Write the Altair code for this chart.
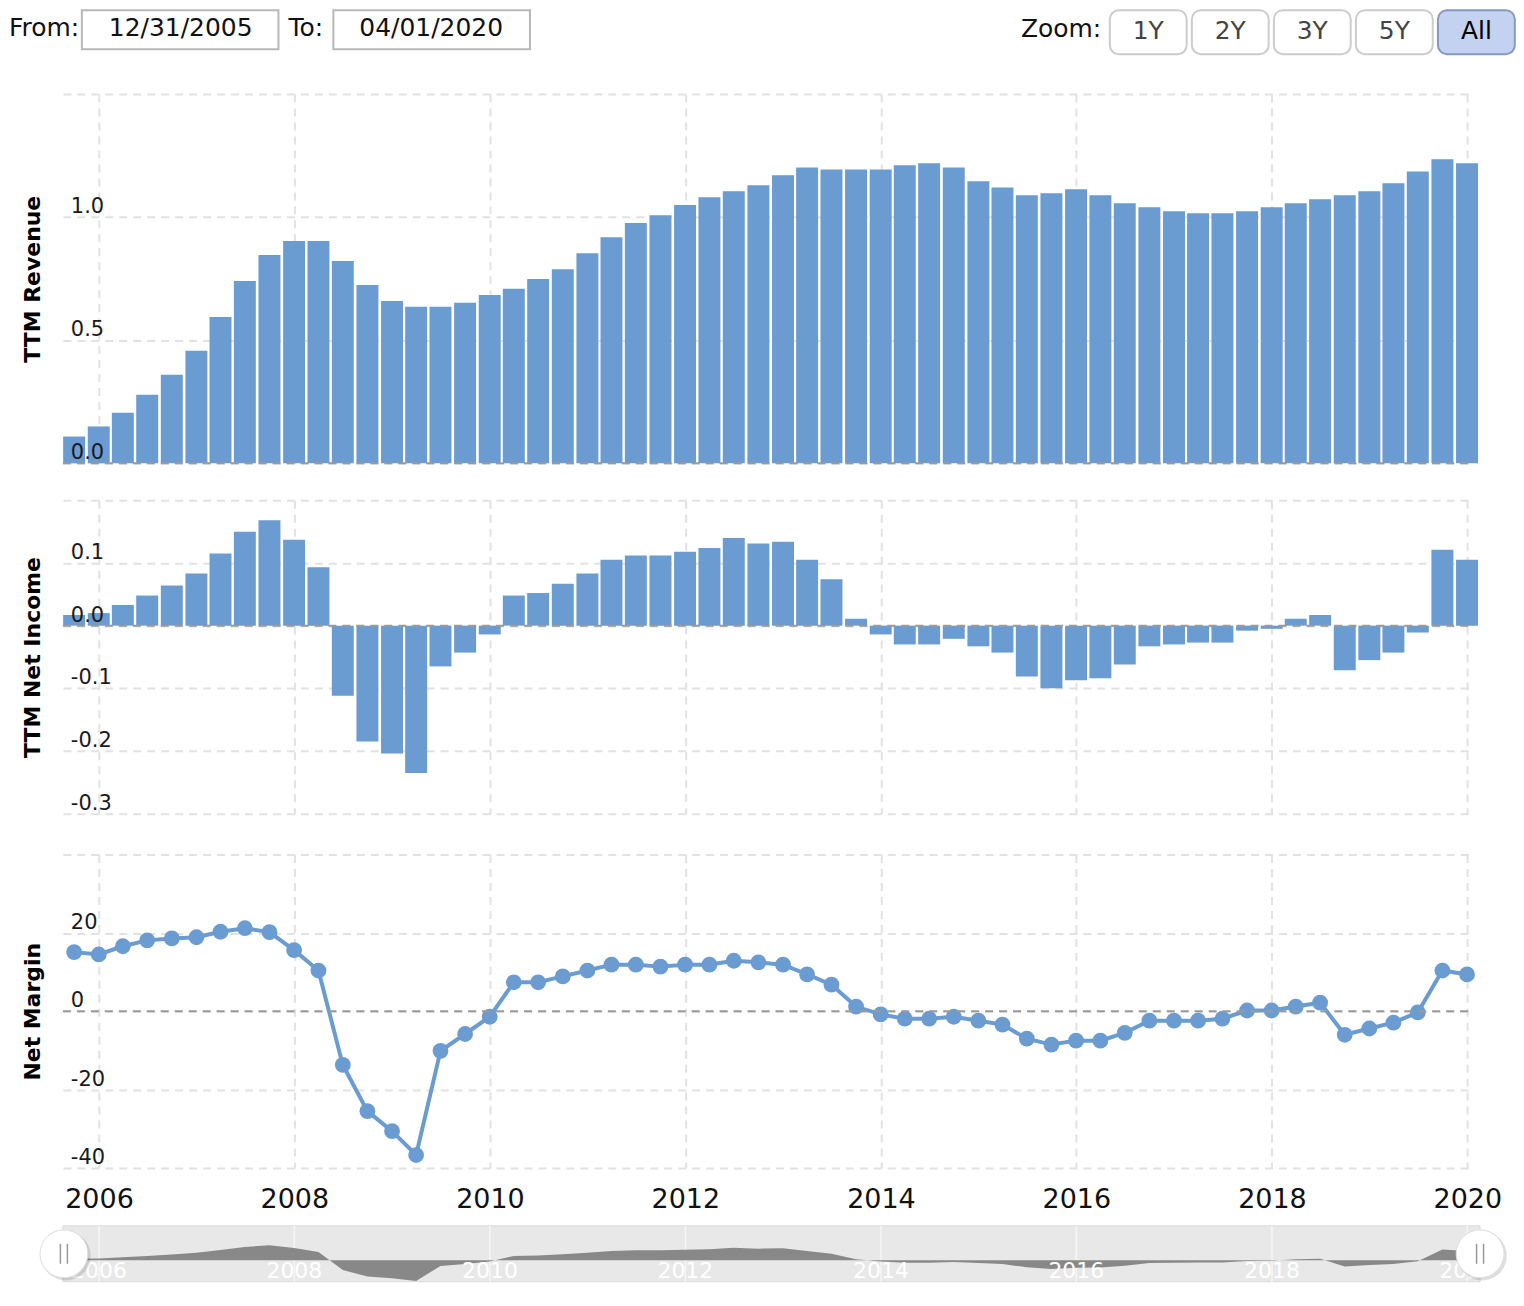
import altair as alt
import pandas as pd

# ---------------- data ----------------
quarter_ends = ["03-31", "06-30", "09-30", "12-31"]
dates = [f"{y}-{q}" for y in range(2005, 2020) for q in quarter_ends
         if f"{y}-{q}" >= "2005-09-30"]

revenue = [0.109, 0.150, 0.206, 0.279, 0.360, 0.457, 0.595, 0.741, 0.846, 0.903,
           0.903, 0.822, 0.725, 0.660, 0.636, 0.636, 0.652, 0.684, 0.709, 0.749,
           0.789, 0.854, 0.919, 0.976, 1.008, 1.049, 1.081, 1.105, 1.130,
           1.170, 1.202, 1.194, 1.194, 1.194, 1.211, 1.219, 1.202, 1.146, 1.121,
           1.089, 1.097, 1.113, 1.089, 1.057, 1.040, 1.024, 1.016, 1.016, 1.024,
           1.040, 1.057, 1.073, 1.089, 1.105, 1.138, 1.186, 1.235, 1.219]

net_income = [0.017, 0.020, 0.033, 0.048, 0.064, 0.083, 0.115, 0.150, 0.168, 0.137,
              0.093, -0.112, -0.185, -0.204, -0.235, -0.065, -0.043, -0.014, 0.048, 0.052,
              0.067, 0.083, 0.105, 0.112, 0.112, 0.118, 0.124, 0.140, 0.131, 0.134,
              0.105, 0.074, 0.011, -0.014, -0.030, -0.030, -0.021, -0.033, -0.043, -0.081,
              -0.100, -0.087, -0.084, -0.062, -0.033, -0.030, -0.027, -0.027, -0.008, -0.005,
              0.011, 0.017, -0.071, -0.055, -0.043, -0.011, 0.121, 0.105]

net_margin = [15.1, 14.5, 16.6, 18.1, 18.6, 18.9, 20.3, 21.2, 20.2, 15.6,
              10.4, -13.7, -25.5, -30.6, -36.7, -10.1, -5.8, -1.4, 7.4, 7.4,
              8.9, 10.4, 11.9, 11.9, 11.4, 11.9, 11.9, 12.9, 12.5, 11.9,
              9.4, 6.8, 1.2, -0.8, -1.9, -1.9, -1.4, -2.4, -3.4, -7.0,
              -8.5, -7.5, -7.5, -5.5, -2.4, -2.4, -2.4, -1.9, 0.2, 0.2,
              1.2, 2.2, -6.0, -4.4, -2.9, -0.3, 10.4, 9.4]

rev_ticks = [0.0, 0.5, 1.0, 1.5]
ni_ticks = [-0.3, -0.2, -0.1, 0.0, 0.1, 0.2]
nm_ticks = [-40, -20, 0, 20, 40]
year_ticks = [2006, 2008, 2010, 2012, 2014, 2016, 2018, 2020]
zoom_buttons = ["1Y", "2Y", "3Y", "5Y", "All"]
selected_button = "All"
date_from = "12/31/2005"
date_to = "04/01/2020"
titles = ["TTM Revenue", "TTM Net Income", "Net Margin"]

# ---------------- style / layout ----------------
BLUE = "#6a9bd1"
GRID = "#e2e2e2"
ZERO = "#9a9a9a"
FONT = "DejaVu Sans"
W, H1, H2, H3 = 1408, 370, 314, 314
ONE = pd.DataFrame({"k": [0]})

x_scale = alt.Scale(type="utc", padding=0,
                    domain=[alt.DateTime(year=2005, month=8, date=19, utc=True),
                            alt.DateTime(year=2020, month=1, date=4, utc=True)])
year_vals = [alt.DateTime(year=y, month=1, date=1, utc=True) for y in year_ticks]
grid = dict(grid=True, gridColor=GRID, gridDash=[8, 6], gridWidth=2)

x_axis_hidden = alt.Axis(values=year_vals, labels=False, ticks=False, tickSize=0,
                         domain=False, title=None, **grid)
x_axis_main = alt.Axis(values=year_vals, labelExpr="utcFormat(datum.value, '%Y')",
                       labelFont=FONT, labelFontSize=27, labelColor="#111",
                       labelPadding=19, labelFlush=False, labelOverlap=False,
                       ticks=False, tickSize=0, domain=False, title=None, **grid)


def y_axis(title, vals, h):
    return alt.Axis(values=vals, labels=False, ticks=False, tickSize=0, domain=False,
                    title=title, titleFont=FONT, titleFontSize=22, titleFontWeight="bold",
                    titleColor="#000", titleAngle=270, titleX=-23, titleY=h / 2,
                    titleAlign="center", titleBaseline="alphabetic", **grid)


def spacer(y0=100, y1=101):
    return alt.Chart(ONE).mark_rule(color="white", strokeWidth=1).encode(
        x=alt.value(-54), y=alt.value(y0), y2=alt.value(y1))


def tick_text(ticks, fmt, scale, axis):
    vals = ticks[:-1]
    df = pd.DataFrame({"val": vals, "label": [format(v, fmt) for v in vals]})
    return alt.Chart(df).mark_text(align="left", baseline="alphabetic", dx=8, dy=-4,
                                   font=FONT, fontSize=21, color="#1a1a1a").encode(
        x=alt.value(0), y=alt.Y("val:Q", scale=scale, axis=axis), text="label:N")


def zero_rule(scale, axis):
    return alt.Chart(pd.DataFrame({"val": [0.0]})).mark_rule(
        color=ZERO, strokeDash=[8, 6], strokeWidth=2).encode(
        y=alt.Y("val:Q", scale=scale, axis=axis))


def ui_text(txt, x, y, align="left", color="#111", size=25):
    return alt.Chart(ONE).mark_text(text=txt, align=align, baseline="middle", font=FONT,
                                    fontSize=size, color=color).encode(
        x=alt.value(x), y=alt.value(y))


def ui_rect(x0, x1, y0, y1, fill, stroke, radius=0):
    return alt.Chart(ONE).mark_rect(fill=fill, stroke=stroke, strokeWidth=2,
                                    cornerRadius=radius).encode(
        x=alt.value(x0), x2=alt.value(x1), y=alt.value(y0), y2=alt.value(y1))


# ---------------- toolbar (above panel 1) ----------------
toolbar = [
    ui_text("From:", -54, -66),
    ui_rect(19, 216, -84, -45, "white", "#b8b8b8"),
    ui_text(date_from, 118, -66, align="center"),
    ui_text("To:", 226, -66),
    ui_rect(271, 468, -84, -45, "white", "#b8b8b8"),
    ui_text(date_to, 369, -66, align="center"),
    ui_text("Zoom:", 960, -65),
]
for i, b in enumerate(zoom_buttons):
    x0 = 1049 + i * 82.2
    sel = b == selected_button
    toolbar.append(ui_rect(x0, x0 + 77, -84, -40, "#c3d2f0" if sel else "white",
                           "#8898bf" if sel else "#cccccc", radius=9))
    toolbar.append(ui_text(b, x0 + 38.5, -63, align="center",
                           color="#000" if sel else "#444"))

# ---------------- panel 1: revenue ----------------
y1s = alt.Scale(domain=[0, 1.5], nice=False, zero=False)
y1a = y_axis(titles[0], rev_ticks, H1)
df_rev = pd.DataFrame({"date": dates, "val": revenue})
bars1 = alt.Chart(df_rev).mark_bar(color=BLUE, width=22).encode(
    x=alt.X("date:T", scale=x_scale, axis=x_axis_hidden),
    y=alt.Y("val:Q", scale=y1s, axis=y1a), y2=alt.datum(0))
p1 = alt.layer(bars1, zero_rule(y1s, y1a), tick_text(rev_ticks, ".1f", y1s, y1a),
               spacer(), *toolbar).properties(width=W, height=H1)

# ---------------- panel 2: net income ----------------
y2s = alt.Scale(domain=[-0.3, 0.2], nice=False, zero=False)
y2a = y_axis(titles[1], ni_ticks, H2)
df_ni = pd.DataFrame({"date": dates, "val": net_income})
bars2 = alt.Chart(df_ni).mark_bar(color=BLUE, width=22).encode(
    x=alt.X("date:T", scale=x_scale, axis=x_axis_hidden),
    y=alt.Y("val:Q", scale=y2s, axis=y2a), y2=alt.datum(0))
p2 = alt.layer(bars2, zero_rule(y2s, y2a), tick_text(ni_ticks, ".1f", y2s, y2a),
               spacer()).properties(width=W, height=H2)

# ---------------- panel 3: net margin + navigator ----------------
y3s = alt.Scale(domain=[-40, 40], nice=False, zero=False)
y3a = y_axis(titles[2], nm_ticks, H3)
df_nm = pd.DataFrame({"date": dates, "val": net_margin})
xm = alt.X("date:T", scale=x_scale, axis=x_axis_main)
line3 = alt.Chart(df_nm).mark_line(color=BLUE, strokeWidth=4).encode(
    x=xm, y=alt.Y("val:Q", scale=y3s, axis=y3a))
pts3 = alt.Chart(df_nm).mark_circle(color=BLUE, size=250, opacity=1).encode(
    x=xm, y=alt.Y("val:Q", scale=y3s, axis=y3a))
inner3 = alt.layer(line3, pts3, zero_rule(y3s, y3a), tick_text(nm_ticks, "d", y3s, y3a))

NAV_TOP, NAV_BOT = 372, 428
nav_scale = alt.Scale(domain=[-0.244, 0.389], range=[NAV_BOT, NAV_TOP], nice=False, zero=False)
df_years = pd.DataFrame({"date": [f"{y}-01-01" for y in year_ticks],
                         "label": [str(y) for y in year_ticks]})
nav_bg = alt.Chart(ONE).mark_rect(fill="#e8e8e8", stroke="#dadada", strokeWidth=1).encode(
    x=alt.value(0), x2=alt.value(1420), y=alt.value(NAV_TOP), y2=alt.value(NAV_BOT))
nav_grid = alt.Chart(df_years).mark_rule(color="#f6f6f6", strokeWidth=1.5).encode(
    x=xm, y=alt.value(NAV_TOP), y2=alt.value(NAV_BOT))
nav_area = alt.Chart(df_ni).mark_area(color="#888888", opacity=1).encode(
    x=xm, y=alt.Y("val:Q", scale=nav_scale, axis=None), y2=alt.datum(0))
nav_labels = alt.Chart(df_years).mark_text(color="white", font=FONT, fontSize=22,
                                           baseline="middle", align="center").encode(
    x=xm, y=alt.value(417), text="label:N")

handles = []
HY = 400
for hx in [1, 1420]:
    handles.append(alt.Chart(ONE).mark_circle(color="#000", opacity=0.13, size=2450).encode(
        x=alt.value(hx + 2), y=alt.value(HY + 2)))
    handles.append(alt.Chart(ONE).mark_circle(color="white", opacity=1, size=2300,
                                              stroke="#dddddd", strokeWidth=1).encode(
        x=alt.value(hx), y=alt.value(HY)))
    for dxg in (-3.5, 3.5):
        handles.append(alt.Chart(ONE).mark_rule(color="#999999", strokeWidth=1.5).encode(
            x=alt.value(hx + dxg), y=alt.value(HY - 10), y2=alt.value(HY + 10)))

p3 = alt.layer(inner3, nav_bg, nav_grid, nav_area, nav_labels, *handles,
               spacer(-4, -3)).resolve_scale(y="independent").properties(width=W, height=H3)

chart = alt.vconcat(p1, p2, p3, spacing=36).properties(padding=0).configure(
    font=FONT).configure_view(stroke=None)

chart.save("out.html", embed_options={"renderer": "svg", "actions": False})
